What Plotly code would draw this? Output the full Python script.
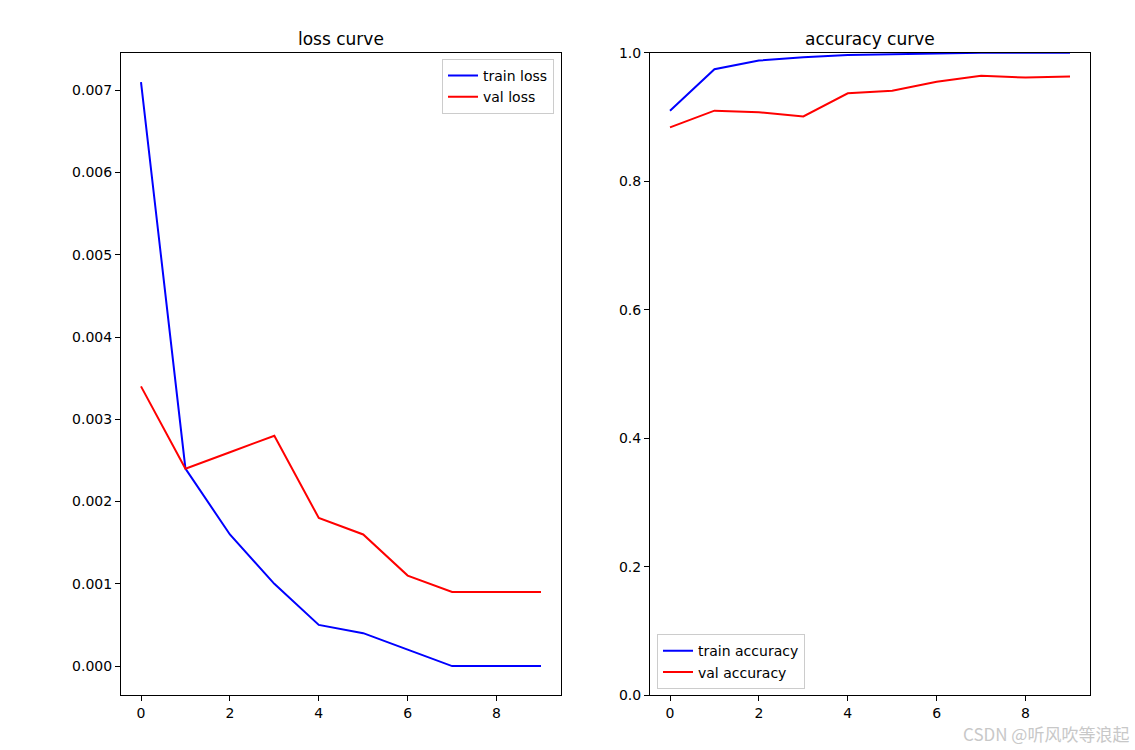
import plotly.graph_objects as go

epochs = list(range(10))
train_loss = [0.0071, 0.0024, 0.0016, 0.0010, 0.0005, 0.0004, 0.0002, 0.0000, 0.0000, 0.0000]
val_loss = [0.0034, 0.0024, 0.0026, 0.0028, 0.0018, 0.0016, 0.0011, 0.0009, 0.0009, 0.0009]
train_acc = [0.910, 0.9745, 0.988, 0.993, 0.9965, 0.998, 0.9995, 1.0, 1.0, 1.0]
val_acc = [0.884, 0.910, 0.9075, 0.901, 0.937, 0.941, 0.955, 0.9645, 0.9615, 0.963]
loss_ticks = [0.000, 0.001, 0.002, 0.003, 0.004, 0.005, 0.006, 0.007]
acc_ticks = [0.0, 0.2, 0.4, 0.6, 0.8, 1.0]
x_ticks = [0, 2, 4, 6, 8]

FONT = "DejaVu Sans"
W, H = 1135, 750

fig = go.Figure()
fig.add_trace(go.Scatter(x=epochs, y=train_loss, mode="lines", name="train loss",
                         line=dict(color="blue", width=2), xaxis="x", yaxis="y", legend="legend"))
fig.add_trace(go.Scatter(x=epochs, y=val_loss, mode="lines", name="val loss",
                         line=dict(color="red", width=2), xaxis="x", yaxis="y", legend="legend"))
fig.add_trace(go.Scatter(x=epochs, y=train_acc, mode="lines", name="train accuracy",
                         line=dict(color="blue", width=2), xaxis="x2", yaxis="y2", legend="legend2"))
fig.add_trace(go.Scatter(x=epochs, y=val_acc, mode="lines", name="val accuracy",
                         line=dict(color="red", width=2), xaxis="x2", yaxis="y2", legend="legend2"))

def px_x(p):
    return p / W

def px_y(p):
    # target pixel row in the photographed picture -> paper fraction
    f = (p - 8.2) / 0.978
    return 1 - f / H

axis_common = dict(showline=True, mirror=True, linecolor="black", linewidth=1,
                   ticks="outside", ticklen=5, tickcolor="black", tickwidth=1,
                   showgrid=False, zeroline=False,
                   tickfont=dict(family=FONT, size=14, color="black"))

xdom1 = [px_x(121), px_x(561)]
xdom2 = [px_x(650), px_x(1090)]
ydom = [px_y(695), px_y(53)]

fig.update_layout(
    width=W, height=H,
    margin=dict(l=0, r=0, t=0, b=0),
    paper_bgcolor="white", plot_bgcolor="white",
    font=dict(family=FONT, size=14, color="black"),
    xaxis=dict(domain=xdom1, range=[-0.45, 9.45], tickvals=x_ticks, anchor="y", **axis_common),
    yaxis=dict(domain=ydom, range=[-0.000355, 0.007455], tickvals=loss_ticks, tickformat=".3f",
               anchor="x", **axis_common),
    xaxis2=dict(domain=xdom2, range=[-0.45, 9.45], tickvals=x_ticks, anchor="y2", **axis_common),
    yaxis2=dict(domain=ydom, range=[0, 1], tickvals=acc_ticks, tickformat=".1f",
                anchor="x2", **axis_common),
    legend=dict(x=px_x(554), y=px_y(59), xanchor="right", yanchor="top",
                bgcolor="white", bordercolor="#cccccc", borderwidth=1,
                font=dict(family=FONT, size=14, color="black"),
                tracegroupgap=0, itemwidth=30),
    legend2=dict(x=px_x(657), y=px_y(689), xanchor="left", yanchor="bottom",
                 bgcolor="white", bordercolor="#cccccc", borderwidth=1,
                 font=dict(family=FONT, size=14, color="black"),
                 tracegroupgap=0, itemwidth=30),
    showlegend=True,
    annotations=[
        dict(text="loss curve", x=(xdom1[0] + xdom1[1]) / 2, y=px_y(51), xref="paper", yref="paper",
             xanchor="center", yanchor="bottom", showarrow=False,
             font=dict(family=FONT, size=17, color="black")),
        dict(text="accuracy curve", x=(xdom2[0] + xdom2[1]) / 2, y=px_y(51), xref="paper", yref="paper",
             xanchor="center", yanchor="bottom", showarrow=False,
             font=dict(family=FONT, size=17, color="black")),
        dict(text="CSDN\u00a0@听风吹等浪起", x=px_x(1130), y=px_y(733), xref="paper", yref="paper",
             xanchor="right", yanchor="middle", showarrow=False, borderpad=0,
             font=dict(family="Noto Sans CJK SC", size=17, color="#c8c8c8")),
    ],
)

css_fix = (
    "var s=document.createElement('style');"
    "s.textContent='html,body{margin:0!important;padding:0!important;overflow:hidden!important;"
    "height:750px!important;width:1135px!important;}"
    "body>div{margin:0!important;padding:0!important;line-height:0;font-size:0;}';"
    "document.head.appendChild(s);"
)

fig.write_html("out.html", config={"displayModeBar": False}, post_script=css_fix)
